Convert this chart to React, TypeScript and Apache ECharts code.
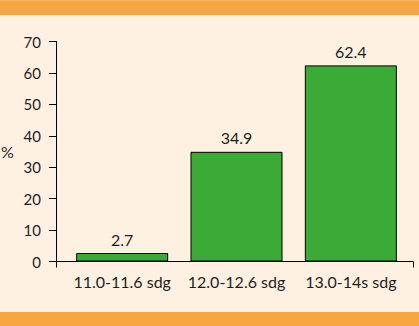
import React, { useEffect, useRef } from "react";
import * as echarts from "echarts";

const categories = ["11.0-11.6 sdg", "12.0-12.6 sdg", "13.0-14s sdg"];
const values = [2.7, 34.9, 62.4];
const yTicks = { min: 0, max: 70, interval: 10 };

const FONT = "Lato";
const INK = "#1e1e1e";

export default function App() {
  const ref = useRef<HTMLDivElement>(null);
  useEffect(() => {
    if (!ref.current) return;
    const chart = echarts.init(ref.current, undefined, { renderer: "svg" });
    chart.setOption({
      animation: false,
      backgroundColor: "#FEF1E1",
      textStyle: { fontFamily: FONT, color: INK },
      graphic: [
        { type: "rect", shape: { x: 0, y: 0, width: 419, height: 15 }, style: { fill: "#F8A641" } },
        { type: "rect", shape: { x: 0, y: 0, width: 419, height: 1 }, style: { fill: "#F9B766" } },
        { type: "rect", shape: { x: 0, y: 312, width: 419, height: 14 }, style: { fill: "#F8A641" } },
        {
          type: "text",
          left: 1,
          top: 143,
          style: { text: "%", font: `16px "${FONT}"`, fill: INK },
        },
      ],
      grid: [
        { left: 56, right: 6, top: 41.5, bottom: 64.5 },
        { left: 65, right: 11, top: 41.5, bottom: 64.5 },
      ],
      xAxis: [
        {
          gridIndex: 0,
          type: "category",
          data: [""],
          boundaryGap: true,
          axisLine: { lineStyle: { color: "#000", width: 1 } },
          axisTick: { show: true, length: 6, lineStyle: { color: "#000" } },
          axisLabel: { show: false },
        },
        {
          gridIndex: 1,
          type: "category",
          data: categories,
          axisLine: { show: false },
          axisTick: { show: false },
          axisLabel: {
            interval: 0,
            hideOverlap: false,
            fontSize: 16,
            color: INK,
            margin: 12,
            fontFamily: FONT,
          },
        },
      ],
      yAxis: [
        {
          gridIndex: 0,
          type: "value",
          min: yTicks.min,
          max: yTicks.max,
          interval: yTicks.interval,
          axisLine: { show: true, lineStyle: { color: "#000", width: 1 } },
          axisTick: { show: true, length: 7, lineStyle: { color: "#000" } },
          axisLabel: { fontSize: 15, color: INK, margin: 15, fontFamily: FONT },
          splitLine: { show: false },
        },
        {
          gridIndex: 1,
          type: "value",
          min: yTicks.min,
          max: yTicks.max,
          interval: yTicks.interval,
          show: false,
          splitLine: { show: false },
        },
      ],
      series: [
        {
          type: "bar",
          xAxisIndex: 1,
          yAxisIndex: 1,
          data: values,
          barWidth: 92,
          itemStyle: { color: "#3CAA36", borderColor: "#000", borderWidth: 1 },
          label: {
            show: true,
            position: "top",
            distance: 6,
            fontSize: 16,
            color: INK,
            fontFamily: FONT,
            formatter: (p: any) => p.value.toFixed(1),
          },
        },
      ],
    });
    return () => chart.dispose();
  }, []);
  return (
    <div style={{ position: "absolute", left: 0, top: 0 }}>
      <div ref={ref} style={{ width: 419, height: 326 }} />
    </div>
  );
}
